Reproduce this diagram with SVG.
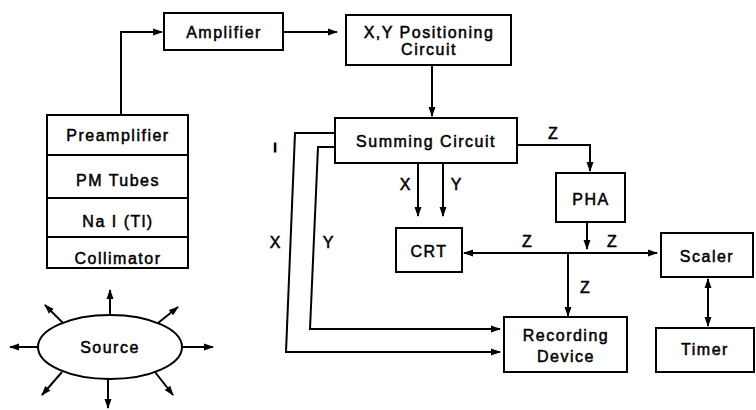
<svg xmlns="http://www.w3.org/2000/svg" width="756" height="410" viewBox="0 0 756 410">
<defs>
<marker id="ah" viewBox="0 0 10 10" refX="9" refY="5" markerWidth="10" markerHeight="10" markerUnits="userSpaceOnUse" orient="auto-start-reverse">
<path d="M0,1.5 L10,5 L0,8.5 Z" fill="#000"/>
</marker>
</defs>
<style>
rect, ellipse { fill: #fff; stroke: #000; stroke-width: 2; }
.ln { fill: none; stroke: #000; stroke-width: 2; }
text { font-family: "Liberation Sans", Arial, sans-serif; font-size: 16px; fill: #000; stroke: #000; stroke-width: 0.5px; text-anchor: middle; letter-spacing: 1.5px; }
.lb { font-size: 16px; letter-spacing: 0; }
</style>
<rect x="0" y="0" width="756" height="410" style="fill:#fff;stroke:none"/>

<g id="connectors">
<path class="ln" d="M121,115 V32 H162" marker-end="url(#ah)"/>
<path class="ln" d="M283,32 H337" marker-end="url(#ah)"/>
<path class="ln" d="M432,65 V116" marker-end="url(#ah)"/>
<path class="ln" d="M335,133 H295 L286,352 H500" marker-end="url(#ah)"/>
<path class="ln" d="M335,147 H318 L310,329 H500" marker-end="url(#ah)"/>
<path class="ln" d="M418,163 V216" marker-end="url(#ah)"/>
<path class="ln" d="M443,163 V216" marker-end="url(#ah)"/>
<path class="ln" d="M517,145 H590 V171" marker-end="url(#ah)"/>
<path class="ln" d="M587,222 V249" marker-end="url(#ah)"/>
<path class="ln" d="M464,253 H657" marker-start="url(#ah)" marker-end="url(#ah)"/>
<path class="ln" d="M568,253 V316" marker-end="url(#ah)"/>
<path class="ln" d="M708,279 V326" marker-start="url(#ah)" marker-end="url(#ah)"/>
<path class="ln" d="M110,315 V290" marker-end="url(#ah)"/>
<path class="ln" d="M182,347 H213" marker-end="url(#ah)"/>
<path class="ln" d="M38,347 H10" marker-end="url(#ah)"/>
<path class="ln" d="M63,323 L45,305" marker-end="url(#ah)"/>
<path class="ln" d="M158,323 L178,307" marker-end="url(#ah)"/>
<path class="ln" d="M62,372 L42,395" marker-end="url(#ah)"/>
<path class="ln" d="M155,372 L173,395" marker-end="url(#ah)"/>
<path class="ln" d="M108,378 V408" marker-end="url(#ah)"/>
</g>

<g id="amplifier"><rect x="164" y="13" width="119" height="37"/><text x="224" y="38">Amplifier</text></g>
<g id="xy-positioning"><rect x="346" y="15" width="165" height="50"/><text x="429" y="38">X,Y Positioning</text><text x="429" y="55">Circuit</text></g>
<g id="summing-circuit"><rect x="335" y="118" width="182" height="45"/><text x="426" y="147">Summing Circuit</text></g>
<g id="detector-stack">
<rect x="47" y="115" width="141" height="40"/><text x="118" y="141">Preamplifier</text>
<rect x="47" y="155" width="141" height="43"/><text x="118" y="186">PM Tubes</text>
<rect x="47" y="198" width="141" height="39"/><text x="118" y="227">Na I (Tl)</text>
<rect x="47" y="237" width="141" height="31"/><text x="118" y="264">Collimator</text>
</g>
<g id="source"><ellipse cx="110" cy="347" rx="72" ry="32"/><text x="110" y="353">Source</text></g>
<g id="pha"><rect x="556" y="173" width="69" height="49"/><text x="591" y="205">PHA</text></g>
<g id="crt"><rect x="396" y="228" width="66" height="44"/><text x="429" y="257">CRT</text></g>
<g id="scaler"><rect x="661" y="233" width="92" height="44"/><text x="707" y="262">Scaler</text></g>
<g id="recording-device"><rect x="504" y="317" width="123" height="55"/><text x="566" y="341">Recording</text><text x="566" y="362">Device</text></g>
<g id="timer"><rect x="656" y="328" width="98" height="44"/><text x="705" y="355">Timer</text></g>

<g id="labels">
<text class="lb" x="275" y="152" style="font-size:13px;stroke-width:1.2px">I</text>
<text class="lb" x="275" y="248">X</text>
<text class="lb" x="328" y="248">Y</text>
<text class="lb" x="405" y="190">X</text>
<text class="lb" x="456" y="190">Y</text>
<text class="lb" x="553" y="139">Z</text>
<text class="lb" x="527" y="247">Z</text>
<text class="lb" x="612" y="247">Z</text>
<text class="lb" x="585" y="293">Z</text>
</g>
</svg>
